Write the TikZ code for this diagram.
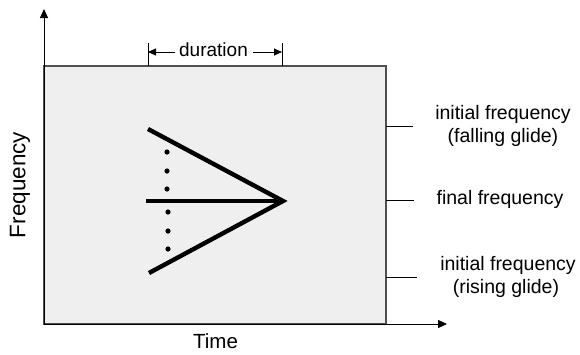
\documentclass[tikz,border=0pt]{standalone}
\usepackage{fontspec}
\setmainfont{Liberation Sans}
\usetikzlibrary{arrows.meta}
\definecolor{panel}{HTML}{EFEFEF}
\definecolor{frame}{HTML}{505050}
\begin{document}
\begin{tikzpicture}[x=1pt,y=-1pt,
  lbl/.style={font=\fontsize{19.5}{23}\selectfont, inner sep=0pt, align=center},
  axis/.style={line width=0.9pt, -{Triangle[length=9pt,width=8pt]}},
  tickln/.style={line width=0.7pt},
  glide/.style={line width=4.4pt},
  durarrow/.style={line width=0.9pt, -{Triangle[length=8pt,width=7pt]}},
  dotmark/.style={circle, fill=black, inner sep=0pt, minimum size=5.2pt}]
\useasboundingbox (0,0) rectangle (580,354);
% panel
\draw[fill=panel, draw=frame, line width=1.1pt] (44,66) rectangle (386,324);
% axes
\coordinate (o) at (44,324);
\coordinate (ytip) at (44,9);
\coordinate (xtip) at (447,324);
\draw[axis] (o) -- (ytip);
\draw[axis] (o) -- (xtip);
% axis labels
\node[lbl, font=\fontsize{22.5}{26}\selectfont, rotate=90] (freq) at (20,185) {Frequency};
\node[lbl, font=\fontsize{20.5}{24}\selectfont] (time) at (215.5,341) {Time};
% glide lines
\coordinate (apex) at (283,201);
\coordinate (ftop) at (148,129);
\coordinate (fbot) at (149,273);
\coordinate (fmid) at (146,201);
\draw[glide] (ftop) -- (apex) -- (fbot);
\draw[glide] (fmid) -- (apex);
% dots
\foreach \yy/\nm in {152/d1,171/d2,189/d3} \node[dotmark] (\nm) at (167,\yy) {};
\foreach \yy/\nm in {212/d4,231/d5,249/d6} \node[dotmark] (\nm) at (168,\yy) {};
% duration
\coordinate (dl) at (148,43);
\coordinate (dlb) at (148,66);
\coordinate (dr) at (282,43);
\coordinate (drb) at (282,66);
\draw[tickln] (dl) -- (dlb);
\draw[tickln] (dr) -- (drb);
\node[lbl, font=\fontsize{19}{22}\selectfont] (dur) at (213.5,50) {duration};
\coordinate (dla) at (148,52);
\coordinate (dra) at (282,52);
\draw[durarrow] (dur.west) ++(-4,2) -- (dla);
\draw[durarrow] (dur.east) ++(5,2) -- (dra);
% right ticks
\coordinate (t1a) at (386,126); \coordinate (t1b) at (413,126);
\coordinate (t2a) at (386,200); \coordinate (t2b) at (414,200);
\coordinate (t3a) at (386,277); \coordinate (t3b) at (417,277);
\draw[tickln] (t1a) -- (t1b);
\draw[tickln] (t2a) -- (t2b);
\draw[tickln] (t3a) -- (t3b);
% right labels
\node[lbl] (fall) at (503,126) {initial frequency\\(falling glide)};
\node[lbl] (final) at (500,199) {final frequency};
\node[lbl] (rise) at (508,277) {initial frequency\\\hspace*{-4pt}(rising glide)};
\end{tikzpicture}
\end{document}
